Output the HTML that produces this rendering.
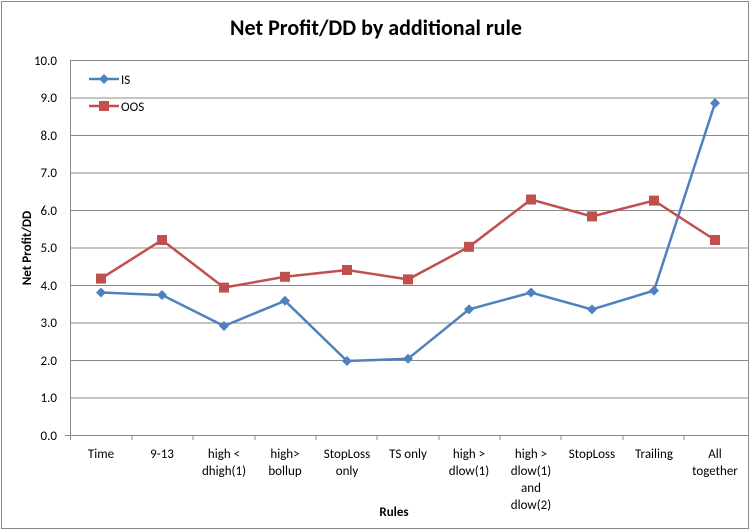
<!DOCTYPE html>
<html><head><style>body{margin:0;background:#fff}svg{display:block}</style></head><body>
<svg width="752" height="530" xmlns="http://www.w3.org/2000/svg" font-family="Calibri, 'Liberation Sans', sans-serif">
<rect x="1.5" y="1.5" width="747" height="527" fill="#fff" stroke="#888"/>
<text x="376" y="35" text-anchor="middle" font-size="22" font-weight="bold">Net Profit/DD by additional rule</text>
<g stroke="#888" stroke-width="1">
<line x1="70" y1="60.5" x2="748" y2="60.5"/><line x1="70" y1="98" x2="748" y2="98"/><line x1="70" y1="135.5" x2="748" y2="135.5"/><line x1="70" y1="173" x2="748" y2="173"/><line x1="70" y1="210.5" x2="748" y2="210.5"/><line x1="70" y1="248" x2="748" y2="248"/><line x1="70" y1="285.5" x2="748" y2="285.5"/><line x1="70" y1="323" x2="748" y2="323"/><line x1="70" y1="360.5" x2="748" y2="360.5"/><line x1="70" y1="398" x2="748" y2="398"/><line x1="65" y1="435.5" x2="748" y2="435.5"/>
<line x1="70.5" y1="60" x2="70.5" y2="435"/>
<line x1="70.5" y1="435" x2="70.5" y2="440"/><line x1="132" y1="435" x2="132" y2="440"/><line x1="193" y1="435" x2="193" y2="440"/><line x1="255" y1="435" x2="255" y2="440"/><line x1="316" y1="435" x2="316" y2="440"/><line x1="377" y1="435" x2="377" y2="440"/><line x1="439" y1="435" x2="439" y2="440"/><line x1="500" y1="435" x2="500" y2="440"/><line x1="561" y1="435" x2="561" y2="440"/><line x1="623" y1="435" x2="623" y2="440"/><line x1="684" y1="435" x2="684" y2="440"/>
</g>
<g font-size="13" text-anchor="end">
<text x="57" y="65">10.0</text><text x="57" y="102">9.0</text><text x="57" y="140">8.0</text><text x="57" y="177">7.0</text><text x="57" y="215">6.0</text><text x="57" y="252">5.0</text><text x="57" y="290">4.0</text><text x="57" y="327">3.0</text><text x="57" y="365">2.0</text><text x="57" y="402">1.0</text><text x="57" y="440">0.0</text>
</g>
<g font-size="13" text-anchor="middle">
<text x="101" y="458">Time</text><text x="162" y="458">9-13</text>
<text x="224" y="458">high &lt;</text><text x="224" y="475">dhigh(1)</text>
<text x="285" y="458">high&gt;</text><text x="285" y="475">bollup</text>
<text x="347" y="458">StopLoss</text><text x="347" y="475">only</text>
<text x="408" y="458">TS only</text>
<text x="469" y="458">high &gt;</text><text x="469" y="475">dlow(1)</text>
<text x="531" y="458">high &gt;</text><text x="531" y="475">dlow(1)</text><text x="531" y="492">and</text><text x="531" y="509">dlow(2)</text>
<text x="592" y="458">StopLoss</text><text x="654" y="458">Trailing</text>
<text x="715" y="458">All</text><text x="715" y="475">together</text>
<text x="394" y="516" font-weight="bold">Rules</text>
</g>
<text transform="translate(31,248) rotate(-90)" font-size="13" font-weight="bold" text-anchor="middle">Net Profit/DD</text>
<polyline fill="none" stroke="#4F81BD" stroke-width="2.5" points="101,292.5 162,295 224,326 285,300.8 347,361 408,358.8 469,309.4 531,292.5 592,309.4 654,290.6 715,103.1"/>
<g fill="#4F81BD">
<path d="M101,287.5l5,5l-5,5l-5,-5z"/><path d="M162,290l5,5l-5,5l-5,-5z"/><path d="M224,321l5,5l-5,5l-5,-5z"/><path d="M285,295.8l5,5l-5,5l-5,-5z"/><path d="M347,356l5,5l-5,5l-5,-5z"/><path d="M408,353.8l5,5l-5,5l-5,-5z"/><path d="M469,304.4l5,5l-5,5l-5,-5z"/><path d="M531,287.5l5,5l-5,5l-5,-5z"/><path d="M592,304.4l5,5l-5,5l-5,-5z"/><path d="M654,285.6l5,5l-5,5l-5,-5z"/><path d="M715,98.1l5,5l-5,5l-5,-5z"/>
</g>
<polyline fill="none" stroke="#C0504D" stroke-width="2.5" points="101,278.6 162,240 224,287.6 285,276.8 347,270 408,279.4 469,246.8 531,199.5 592,216.4 654,200.6 715,240"/>
<g fill="#C0504D">
<rect x="96" y="273.6" width="10" height="10"/><rect x="157" y="235" width="10" height="10"/><rect x="219" y="282.6" width="10" height="10"/><rect x="280" y="271.8" width="10" height="10"/><rect x="342" y="265" width="10" height="10"/><rect x="403" y="274.4" width="10" height="10"/><rect x="464" y="241.8" width="10" height="10"/><rect x="526" y="194.5" width="10" height="10"/><rect x="587" y="211.4" width="10" height="10"/><rect x="649" y="195.6" width="10" height="10"/><rect x="710" y="235" width="10" height="10"/>
</g>
<line x1="89" y1="79" x2="119" y2="79" stroke="#4F81BD" stroke-width="2.5"/><path d="M104,74l5,5l-5,5l-5,-5z" fill="#4F81BD"/>
<text x="121" y="84" font-size="13">IS</text>
<line x1="89" y1="106" x2="119" y2="106" stroke="#C0504D" stroke-width="2.5"/><rect x="99" y="101" width="10" height="10" fill="#C0504D"/>
<text x="121" y="111" font-size="13">OOS</text>
</svg>
</body></html>
